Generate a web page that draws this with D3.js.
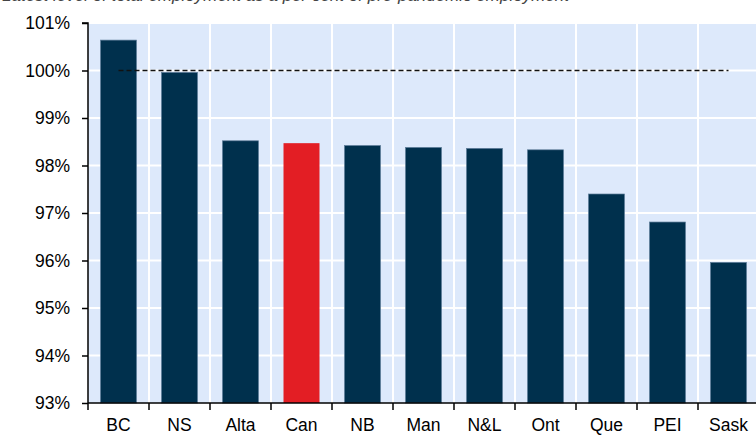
<!DOCTYPE html>
<html>
<head>
<meta charset="utf-8">
<script src="https://cdn.jsdelivr.net/npm/d3@7"></script>
<style>
  html, body { margin: 0; padding: 0; background: #fff; overflow: hidden; }
  svg { display: block; font-family: "Liberation Sans", Arial, sans-serif; }
</style>
</head>
<body>
<svg id="chart" width="756" height="439"></svg>
<script>
// provinces, sorted as in the chart
const provinces = ["BC", "NS", "Alta", "Can", "NB", "Man", "N&L", "Ont", "Que", "PEI", "Sask"]
// employment, % of pre-pandemic level
const empShare = [100.64, 99.96, 98.52, 98.47, 98.42, 98.38, 98.36, 98.33, 97.40, 96.81, 95.96]
const yTicks = [93, 94, 95, 96, 97, 98, 99, 100, 101]
const refLevel = 100
const subtitle = "Latest level of total employment as a per cent of pre-pandemic employment"

// margin convention
const margin = { top: 23, right: -3, bottom: 36, left: 88 }
const W = 756, H = 439
const width = W - margin.left - margin.right
const height = H - margin.top - margin.bottom

const svg = d3.select("#chart")

// subtitle sits mostly above the top edge, as in the source picture
svg.append("text")
    .attr("x", 2)
    .attr("y", 0.5)
    .attr("font-size", 17)
    .attr("font-style", "italic")
    .attr("fill", "#444")
    .text(subtitle)

const g = svg.append("g")
    .attr("transform", "translate(" + margin.left + "," + margin.top + ")")

const x = d3.scaleBand()
    .domain(provinces)
    .range([0, width])
    .paddingInner(0.41)
    .paddingOuter(0.205)

const y = d3.scaleLinear()
    .domain([93, 101])
    .range([height, 0])

// plot background
g.append("rect")
    .attr("width", width)
    .attr("height", height)
    .attr("fill", "#dde9fb")

// white grid
g.append("g")
    .selectAll("line")
    .data(yTicks.slice(1))
    .enter().append("line")
        .attr("x1", 0).attr("x2", width)
        .attr("y1", d => y(d)).attr("y2", d => y(d))
        .attr("stroke", "#fff")
        .attr("stroke-width", 2)

g.append("g")
    .selectAll("line")
    .data(provinces.slice(1))
    .enter().append("line")
        .attr("x1", d => x(d) - x.step() * x.paddingInner() / 2)
        .attr("x2", d => x(d) - x.step() * x.paddingInner() / 2)
        .attr("y1", 0).attr("y2", height)
        .attr("stroke", "#fff")
        .attr("stroke-width", 2)

// bars
g.append("g")
    .selectAll("rect")
    .data(provinces)
    .enter().append("rect")
        .attr("x", d => x(d))
        .attr("width", x.bandwidth())
        .attr("y", (d, i) => y(empShare[i]))
        .attr("height", (d, i) => height - y(empShare[i]))
        .attr("fill", d => d === "Can" ? "#e31e24" : "#00304d")
        .attr("stroke", d => d === "Can" ? "none" : "#5d7c99")
        .attr("stroke-width", 0.7)

// 100% reference line
g.append("line")
    .attr("x1", x(provinces[0]) + x.bandwidth() / 2)
    .attr("x2", x(provinces[provinces.length - 1]) + x.bandwidth() / 2)
    .attr("y1", y(refLevel)).attr("y2", y(refLevel))
    .attr("stroke", "#111")
    .attr("stroke-width", 1.5)
    .attr("stroke-dasharray", "5,3")

// y axis
const yAxis = g.append("g")
    .call(d3.axisLeft(y).tickValues(yTicks).tickSize(6).tickPadding(12)
        .tickFormat(d => d + "%"))
yAxis.select(".domain").attr("stroke", "#000").attr("stroke-width", 1.5)
    .attr("d", "M-6,0H0V" + height)
yAxis.selectAll(".tick line").attr("stroke", "#000").attr("stroke-width", 1.5)
yAxis.selectAll("text").attr("font-size", 17.5).attr("fill", "#000")
    .attr("font-family", "Liberation Sans, Arial, sans-serif")

// x axis: ticks sit between categories
const xAxis = g.append("g")
    .attr("transform", "translate(0," + height + ")")
xAxis.append("line")
    .attr("x1", 0).attr("x2", width)
    .attr("stroke", "#000").attr("stroke-width", 1.5)
xAxis.selectAll(".sep")
    .data(provinces)
    .enter().append("line")
        .attr("class", "sep")
        .attr("x1", d => x(d) - x.step() * x.paddingInner() / 2)
        .attr("x2", d => x(d) - x.step() * x.paddingInner() / 2)
        .attr("y1", 0).attr("y2", 7)
        .attr("stroke", "#000").attr("stroke-width", 1.5)
xAxis.selectAll(".lab")
    .data(provinces)
    .enter().append("text")
        .attr("class", "lab")
        .attr("x", d => x(d) + x.bandwidth() / 2)
        .attr("y", 28)
        .attr("text-anchor", "middle")
        .attr("font-size", 17.5)
        .attr("fill", "#000")
        .text(d => d)
</script>
</body>
</html>
